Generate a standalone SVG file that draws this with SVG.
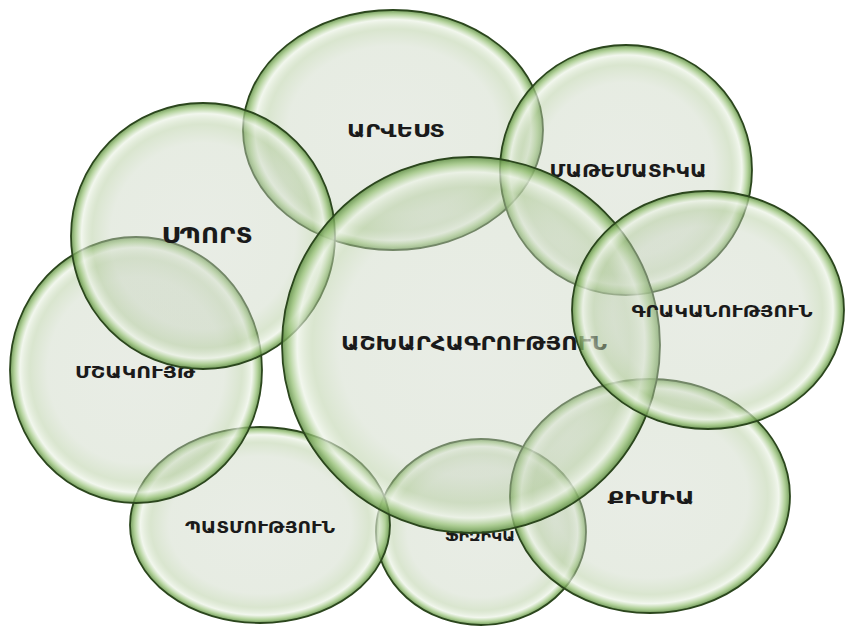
<svg xmlns="http://www.w3.org/2000/svg" width="859" height="628" viewBox="0 0 859 628">
<defs>
<radialGradient id="bub" cx="0.5" cy="0.5" r="0.5">
<stop offset="0" stop-color="#cdd6c6" stop-opacity="0.45"/>
<stop offset="0.7" stop-color="#c9d5c0" stop-opacity="0.45"/>
<stop offset="0.84" stop-color="#b4cc9f" stop-opacity="0.5"/>
<stop offset="0.92" stop-color="#ecf3e6" stop-opacity="0.7"/>
<stop offset="0.965" stop-color="#98c278" stop-opacity="0.75"/>
<stop offset="1" stop-color="#5a8a3e" stop-opacity="0.85"/>
</radialGradient>
<style>
.b{fill:url(#bub);stroke:#2b461d;stroke-width:1.8}
.t{font-family:"DejaVu Sans","Noto Sans",sans-serif;font-weight:bold;fill:#1a1a1a;text-anchor:middle;dominant-baseline:central}
</style>
</defs>
<rect width="859" height="628" fill="#ffffff"/>
<g id="fizika"><ellipse class="b" cx="481" cy="532" rx="105" ry="93"/><text class="t" x="480" y="536" font-size="14" textLength="70" lengthAdjust="spacingAndGlyphs">ՖԻԶԻԿԱ</text></g>
<g id="patmutyun"><ellipse class="b" cx="260" cy="525" rx="130" ry="98"/><text class="t" x="260" y="528" font-size="15" textLength="150" lengthAdjust="spacingAndGlyphs">ՊԱՏՄՈՒԹՅՈՒՆ</text></g>
<g id="qimia"><ellipse class="b" cx="650" cy="496" rx="140" ry="117"/><text class="t" x="651" y="498" font-size="17" textLength="87" lengthAdjust="spacingAndGlyphs">ՔԻՄԻԱ</text></g>
<g id="arvest"><ellipse class="b" cx="393" cy="130" rx="150" ry="120"/><text class="t" x="396" y="131" font-size="17" textLength="98" lengthAdjust="spacingAndGlyphs">ԱՐՎԵՍՏ</text></g>
<g id="matematika"><ellipse class="b" cx="626" cy="170" rx="126" ry="125"/><text class="t" x="628" y="171" font-size="17" textLength="157" lengthAdjust="spacingAndGlyphs">ՄԱԹԵՄԱՏԻԿԱ</text></g>
<g id="mshakuyt"><ellipse class="b" cx="136" cy="370" rx="126" ry="133"/><text class="t" x="135" y="372" font-size="16" textLength="120" lengthAdjust="spacingAndGlyphs">ՄՇԱԿՈՒՅԹ</text></g>
<g id="sport"><ellipse class="b" cx="203" cy="236" rx="132" ry="133"/><text class="t" x="207" y="235" font-size="22" textLength="91" lengthAdjust="spacingAndGlyphs">ՍՊՈՐՏ</text></g>
<g id="ashkharhagrutyun"><ellipse class="b" cx="471" cy="345" rx="189" ry="188"/><text class="t" x="474" y="343" font-size="20" textLength="266" lengthAdjust="spacingAndGlyphs">ԱՇԽԱՐՀԱԳՐՈՒԹՅՈՒՆ</text></g>
<g id="grakanutyun"><ellipse class="b" cx="708" cy="310" rx="136" ry="119"/><text class="t" x="722" y="312" font-size="15" textLength="181" lengthAdjust="spacingAndGlyphs">ԳՐԱԿԱՆՈՒԹՅՈՒՆ</text></g>
<g id="connectors"></g>
</svg>
